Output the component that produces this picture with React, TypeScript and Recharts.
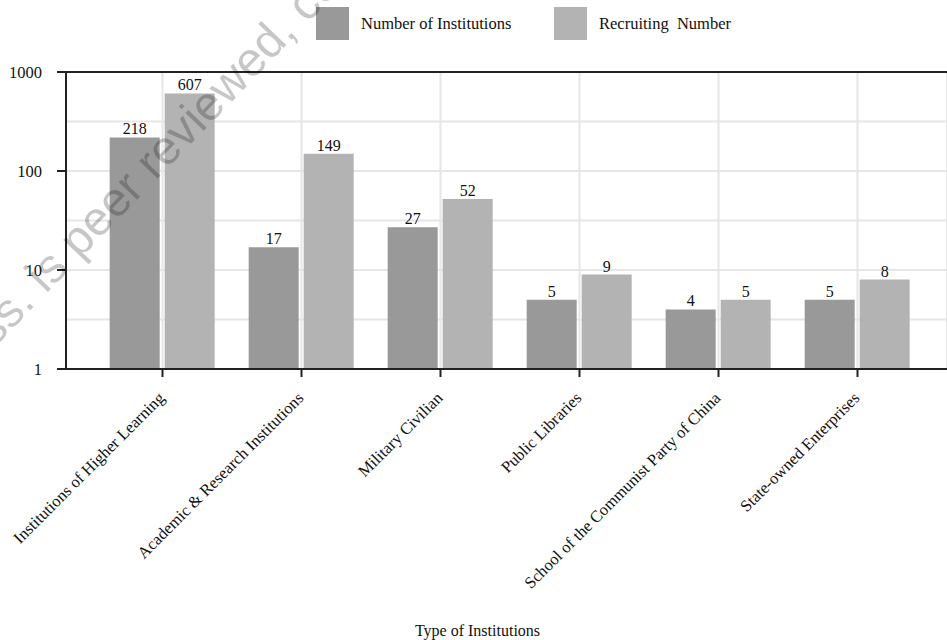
import React from 'react';
import {
  BarChart,
  Bar,
  XAxis,
  YAxis,
  CartesianGrid,
  ReferenceLine,
  LabelList
} from 'recharts';

const categories = [
  'Institutions of Higher Learning',
  'Academic & Research Institutions',
  'Military Civilian',
  'Public Libraries',
  'School of the Communist Party of China',
  'State-owned Enterprises',
];
const institutionCounts = [218, 17, 27, 5, 4, 5];
const recruitingCounts = [607, 149, 52, 9, 5, 8];

const yTicks = [1, 10, 100, 1000];
// major + half-decade grid lines
const gridValues = [1, 3.162, 10, 31.62, 100, 316.2, 1000];

const seriesNames = ['Number of Institutions', 'Recruiting  Number'];

const data = categories.map((name, i) => ({
  name,
  institutions: institutionCounts[i],
  recruiting: recruitingCounts[i],
}));

const DARK = '#999999';
const LIGHT = '#b3b3b3';
const INK = '#111111';
const AXIS = '#222222';
const SERIF = '"Liberation Serif", "Times New Roman", serif';

const W = 947;
const H = 640;

const CategoryTick = (props: any) => {
  const { x, y, payload } = props;
  const ax = x + 3;
  return (
    <text
      x={ax}
      y={y}
      transform={`rotate(-45, ${ax}, ${y})`}
      textAnchor="end"
      fontSize={16.5}
      fontFamily={SERIF}
      fill={INK}
    >
      {payload.value}
    </text>
  );
};

const ValueTick = (props: any) => {
  const { x, y, payload } = props;
  return (
    <text x={x} y={y} dy="0.35em" textAnchor="end" fontSize={16.5} fontFamily={SERIF} fill={INK}>
      {payload.value}
    </text>
  );
};

const BarValue = (props: any) => {
  const { x, y, width, value } = props;
  return (
    <text x={x + width / 2} y={y - 3} textAnchor="middle" fontSize={16} fontFamily={SERIF} fill={INK}>
      {value}
    </text>
  );
};

const App: React.FC = () => {
  return (
    <div style={{ position: 'absolute', left: 0, top: 0, width: W, height: H, background: '#fff', fontFamily: SERIF }}>
      {/* legend */}
      {[DARK, LIGHT].map((color, i) => (
        <div
          key={i}
          style={{
            position: 'absolute',
            left: i === 0 ? 316 : 554,
            top: 7,
            height: 33,
            display: 'flex',
            alignItems: 'center',
          }}
        >
          <div style={{ width: 33, height: 33, background: color }} />
          <span style={{ marginLeft: 12, fontSize: 16.5, color: INK, whiteSpace: 'pre' }}>{seriesNames[i]}</span>
        </div>
      ))}

      <div style={{ position: 'absolute', left: 0, top: 0 }}>
        <BarChart
          width={W}
          height={H}
          data={data}
          margin={{ top: 72, right: 0, left: 0, bottom: 0 }}
          barCategoryGap="12%"
          barGap={5}
          style={{ fontFamily: SERIF }}
        >
          <CartesianGrid stroke="#e6e6e6" strokeWidth={2} horizontalValues={gridValues} />
          <XAxis
            dataKey="name"
            height={271}
            interval={0}
            padding={{ left: 27, right: 20 }}
            axisLine={{ stroke: AXIS, strokeWidth: 2 }}
            tickLine={{ stroke: AXIS, strokeWidth: 2 }}
            tickSize={8}
            tickMargin={22}
            tick={<CategoryTick />}
            label={{
              value: 'Type of Institutions',
              position: 'insideBottom',
              offset: 4,
              dx: -29,
              fontSize: 16,
              fontFamily: SERIF,
              fill: INK,
            }}
          />
          <YAxis
            scale="log"
            domain={[1, 1000]}
            ticks={yTicks}
            allowDataOverflow
            width={66}
            axisLine={{ stroke: AXIS, strokeWidth: 2 }}
            tickLine={{ stroke: AXIS, strokeWidth: 2 }}
            tickSize={9}
            tickMargin={15}
            tick={<ValueTick />}
          />
          <ReferenceLine y={1000} stroke={AXIS} strokeWidth={2} />
          <Bar dataKey="institutions" fill={DARK} isAnimationActive={false}>
            <LabelList dataKey="institutions" content={<BarValue />} />
          </Bar>
          <Bar dataKey="recruiting" fill={LIGHT} isAnimationActive={false}>
            <LabelList dataKey="recruiting" content={<BarValue />} />
          </Bar>
        </BarChart>
      </div>

      {/* watermark */}
      <svg width={W} height={H} style={{ position: 'absolute', left: 0, top: 0, pointerEvents: 'none' }}>
        <text
          x={-6}
          y={348}
          transform="rotate(-46, -6, 348)"
          fontSize={48}
          fontFamily={'"Liberation Sans", Arial, sans-serif'}
          fill="#000"
          fillOpacity={0.22}
        >
          ss. is peer reviewed, co
        </text>
      </svg>
    </div>
  );
};

export default App;
